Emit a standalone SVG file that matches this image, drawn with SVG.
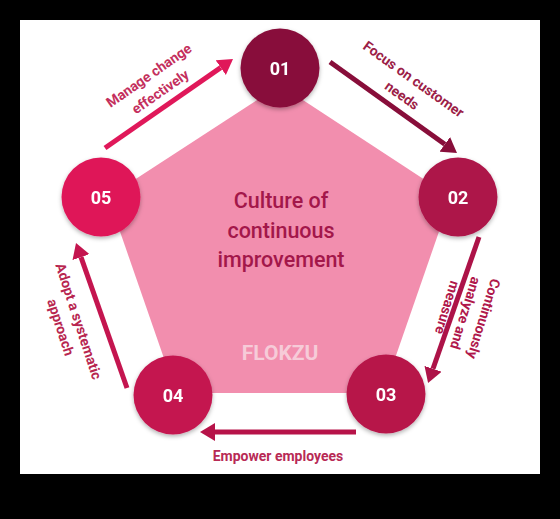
<svg xmlns="http://www.w3.org/2000/svg" width="560" height="519" viewBox="0 0 560 519">
<style>
.num{font-family:Roboto,"Liberation Sans",sans-serif;font-weight:700;font-size:18px;fill:#ffffff;text-anchor:middle;dominant-baseline:central}
.lbl{font-family:Roboto,"Liberation Sans",sans-serif;font-weight:700;font-size:14px;text-anchor:middle;dominant-baseline:central}
.ctr{font-family:Roboto,"Liberation Sans",sans-serif;font-weight:500;font-size:21.5px;fill:#a3174a;text-anchor:middle}
.conn line{stroke-width:5;fill:none}
</style>
<defs>
<filter id="sh" x="-30%" y="-30%" width="160%" height="160%">
<feDropShadow dx="0" dy="2" stdDeviation="2" flood-color="#000" flood-opacity="0.3"/>
</filter>
<marker id="m1" markerUnits="userSpaceOnUse" markerWidth="16" markerHeight="18" viewBox="0 0 16 18" refX="0" refY="9" orient="auto"><path d="M0,0 L15,9 L0,18 z" fill="#e0185a"/></marker>
<marker id="m2" markerUnits="userSpaceOnUse" markerWidth="16" markerHeight="18" viewBox="0 0 16 18" refX="0" refY="9" orient="auto"><path d="M0,0 L15,9 L0,18 z" fill="#880e3a"/></marker>
<marker id="m3" markerUnits="userSpaceOnUse" markerWidth="16" markerHeight="18" viewBox="0 0 16 18" refX="0" refY="9" orient="auto"><path d="M0,0 L15,9 L0,18 z" fill="#ad1348"/></marker>
<marker id="m4" markerUnits="userSpaceOnUse" markerWidth="16" markerHeight="18" viewBox="0 0 16 18" refX="0" refY="9" orient="auto"><path d="M0,0 L15,9 L0,18 z" fill="#b71349"/></marker>
<marker id="m5" markerUnits="userSpaceOnUse" markerWidth="16" markerHeight="18" viewBox="0 0 16 18" refX="0" refY="9" orient="auto"><path d="M0,0 L15,9 L0,18 z" fill="#c4154f"/></marker>
</defs>
<rect x="0" y="0" width="560" height="519" fill="#000"/>
<rect x="20" y="20" width="520" height="454" fill="#fff"/>
<g id="pentagon">
<polygon points="280,85 451,197 383,393 176,393 108,197" fill="#f28eae"/>
<text class="ctr" x="281" y="208">Culture of</text>
<text class="ctr" x="281" y="238">continuous</text>
<text class="ctr" x="281" y="267">improvement</text>
<text x="280" y="360" font-family="Roboto,'Liberation Sans',sans-serif" font-weight="700" font-size="21" fill="#f6cbd8" text-anchor="middle">FLOKZU</text>
</g>
<g id="connectors" class="conn">
<line x1="105" y1="148" x2="220.7" y2="67.6" stroke="#e0185a" marker-end="url(#m1)"/>
<line x1="330" y1="62" x2="444.8" y2="144.3" stroke="#880e3a" marker-end="url(#m2)"/>
<line x1="479" y1="237" x2="433" y2="368.8" stroke="#ad1348" marker-end="url(#m3)"/>
<line x1="356" y1="432" x2="215" y2="432" stroke="#b71349" marker-end="url(#m4)"/>
<line x1="127" y1="388" x2="81" y2="257.1" stroke="#c4154f" marker-end="url(#m5)"/>
</g>
<g id="labels">
<g transform="translate(154.5,83.4) rotate(-35)" fill="#c42f5d"><text class="lbl" y="-10">Manage change</text><text class="lbl" y="10">effectively</text></g>
<g transform="translate(407.9,87.2) rotate(35.6)" fill="#9c1e47"><text class="lbl" y="-10">Focus on customer</text><text class="lbl" y="10">needs</text></g>
<g transform="translate(465.7,313.3) rotate(107)" fill="#b0184b"><text class="lbl" y="-19">Continuously</text><text class="lbl" y="0">analyze and</text><text class="lbl" y="19">measure</text></g>
<g transform="translate(69.8,324.2) rotate(72)" fill="#b82650"><text class="lbl" y="-9.5">Adopt a systematic</text><text class="lbl" y="9.5">approach</text></g>
<text class="lbl" x="278" y="456" fill="#b82a55">Empower employees</text>
</g>
<g id="n01" filter="url(#sh)"><circle cx="280" cy="68" r="39.5" fill="#880e3a"/><text class="num" x="280" y="68">01</text></g>
<g id="n02" filter="url(#sh)"><circle cx="458" cy="197" r="39.5" fill="#ad1348"/><text class="num" x="458" y="197">02</text></g>
<g id="n03" filter="url(#sh)"><circle cx="386" cy="394" r="39.5" fill="#b71349"/><text class="num" x="386" y="394">03</text></g>
<g id="n04" filter="url(#sh)"><circle cx="173" cy="395" r="39.5" fill="#c4154f"/><text class="num" x="173" y="395">04</text></g>
<g id="n05" filter="url(#sh)"><circle cx="101" cy="197" r="39.5" fill="#df1759"/><text class="num" x="101" y="197">05</text></g>
</svg>
